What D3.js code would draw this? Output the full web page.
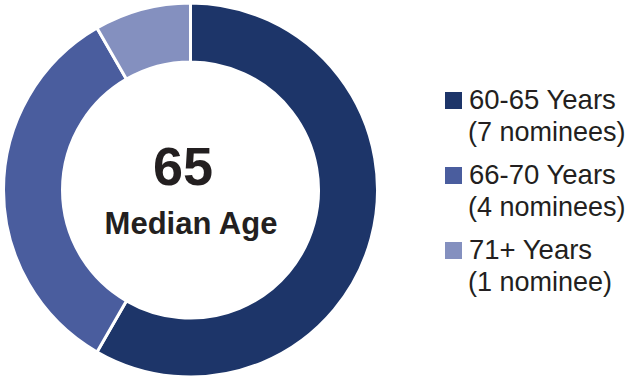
<!DOCTYPE html>
<html><head><meta charset="utf-8">
<script src="https://cdn.jsdelivr.net/npm/d3@7"></script>
<style>html,body{margin:0;padding:0;background:#fff;}svg{display:block;}</style>
</head><body>
<svg id="chart" width="627" height="381"></svg>
<script>
const categories = ["60-65 Years", "66-70 Years", "71+ Years"];
const subLabels = ["(7 nominees)", "(4 nominees)", "(1 nominee)"];
const values = [7, 4, 1];
const colors = ["#1d3569", "#4a5d9e", "#8490bf"];
const centerValue = "65";
const centerLabel = "Median Age";

const svg = d3.select("#chart");
const cx = 190.5, cy = 190, rOuter = 187, rInner = 128;
const font = "'Liberation Sans', Arial, Helvetica, sans-serif";
const textColor = "#231f20";

const pie = d3.pie().sort(null).value(d => d)(values);
const arc = d3.arc().innerRadius(rInner).outerRadius(rOuter);
const color = d3.scaleOrdinal().domain(categories).range(colors);

const g = svg.append("g").attr("transform", `translate(${cx},${cy})`);
g.selectAll("path").data(pie).join("path")
  .attr("d", arc)
  .attr("fill", (d, i) => color(categories[i]))
  .attr("stroke", "#fff").attr("stroke-width", 3);

svg.append("text").attr("x", 183).attr("y", 185)
  .attr("text-anchor", "middle").attr("font-family", font)
  .attr("font-weight", "bold").attr("font-size", 54).attr("fill", textColor)
  .text(centerValue);
svg.append("text").attr("x", 191).attr("y", 234)
  .attr("text-anchor", "middle").attr("font-family", font)
  .attr("font-weight", "bold").attr("font-size", 31).attr("fill", textColor)
  .text(centerLabel);

const leg = svg.append("g");
const items = leg.selectAll("g").data(categories).join("g")
  .attr("transform", (d, i) => `translate(445,${92 + i * 75})`);
items.append("rect").attr("width", 17).attr("height", 17)
  .attr("fill", d => color(d));
items.append("text").attr("x", 24).attr("y", 17)
  .attr("font-family", font).attr("font-size", 27.5).attr("fill", textColor)
  .text(d => d);
items.append("text").attr("x", 23).attr("y", 49)
  .attr("font-family", font).attr("font-size", 27).attr("fill", textColor)
  .text((d, i) => subLabels[i]);
</script>
</body></html>
